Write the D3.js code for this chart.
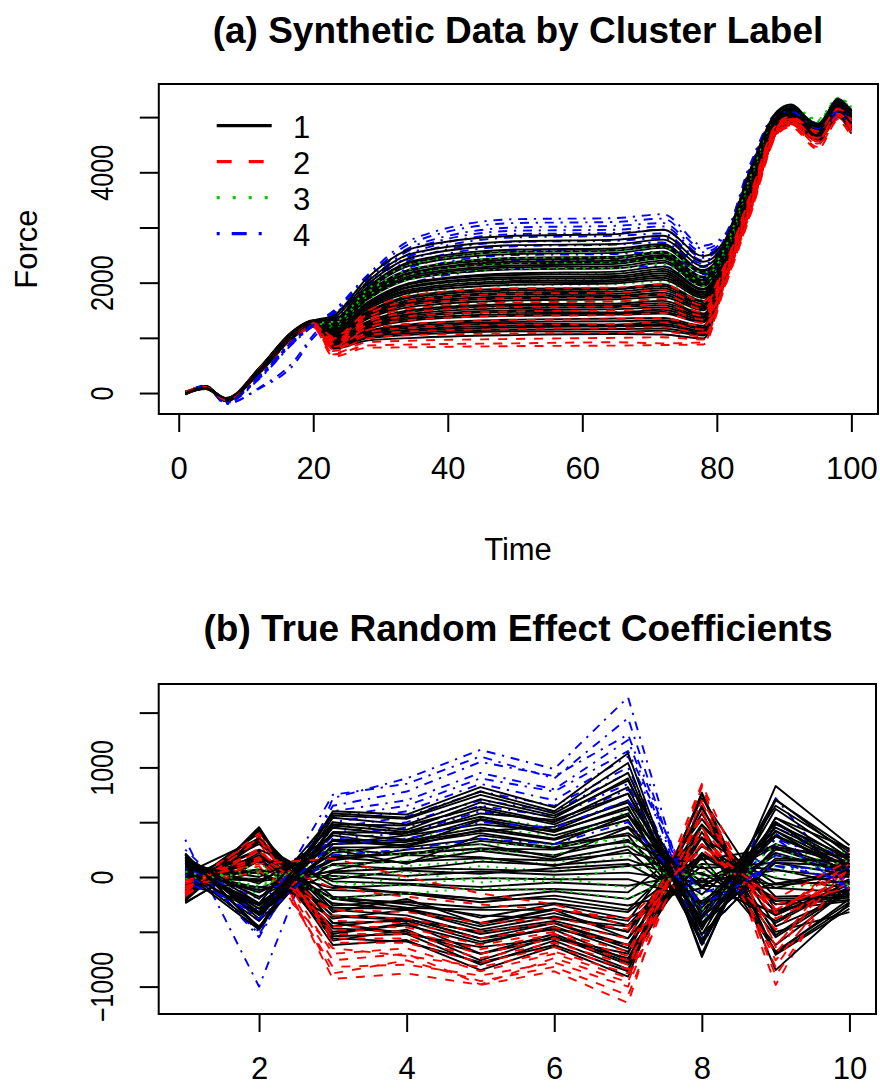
<!DOCTYPE html>
<html>
<head>
<meta charset="utf-8">
<script src="https://cdn.jsdelivr.net/npm/d3@7"></script>
<style>
body { margin: 0; background: #fff; }
text { font-family: "Liberation Sans", Arial, Helvetica, sans-serif; fill: #000; }
</style>
</head>
<body>
<div id="chart"></div>
<script>
// ---------------- data ----------------
var clusterLabels = ["1", "2", "3", "4"];
var clusterColors = ["#000000", "#FF0000", "#00CD00", "#0000FF"];

var timeKeys = [1, 4, 7, 12, 17, 20, 23, 28, 35, 50, 65, 72, 78, 81, 85, 89, 91, 95, 98, 100];

var forceCluster1 = [
  [0, 90, -110, 420, 1080, 1230, 800, 950, 1000, 1050, 1070, 1060, 990, 1950, 3330, 4740, 4880, 4560, 5020, 4850],
  [10, 110, -130, 380, 1020, 1200, 820, 990, 1060, 1120, 1110, 1130, 1040, 1980, 3360, 4760, 4950, 4700, 5150, 4980],
  [10, 100, -120, 400, 1050, 1240, 830, 1010, 1090, 1150, 1160, 1170, 1070, 1990, 3370, 4750, 4920, 4640, 5100, 4900],
  [-20, 80, -100, 440, 1100, 1260, 850, 1040, 1120, 1190, 1210, 1220, 1100, 2000, 3390, 4770, 4900, 4620, 5080, 4790],
  [-10, 90, -130, 430, 1090, 1270, 860, 1060, 1150, 1220, 1230, 1250, 1130, 2010, 3400, 4780, 4960, 4700, 5180, 5000],
  [0, 120, -140, 360, 1000, 1220, 870, 1080, 1190, 1260, 1240, 1290, 1160, 2030, 3420, 4790, 4990, 4750, 5200, 5050],
  [0, 110, -100, 390, 1030, 1230, 880, 1100, 1220, 1290, 1300, 1320, 1190, 2040, 3430, 4790, 4940, 4640, 5080, 4850],
  [20, 100, -90, 410, 1060, 1280, 890, 1120, 1250, 1330, 1350, 1360, 1220, 2060, 3440, 4800, 4920, 4580, 5000, 4700],
  [-10, 70, -120, 450, 1120, 1300, 910, 1160, 1320, 1400, 1420, 1440, 1280, 2090, 3470, 4810, 4970, 4680, 5110, 4900],
  [20, 120, -140, 420, 1070, 1270, 920, 1180, 1350, 1430, 1440, 1470, 1300, 2100, 3480, 4820, 5000, 4740, 5180, 5020],
  [0, 130, -150, 390, 1040, 1240, 940, 1210, 1380, 1470, 1460, 1510, 1330, 2120, 3500, 4830, 5020, 4800, 5230, 5080],
  [-20, 80, -110, 450, 1110, 1300, 950, 1230, 1410, 1500, 1520, 1550, 1360, 2130, 3510, 4830, 4960, 4660, 5090, 4890],
  [30, 90, -100, 430, 1090, 1260, 960, 1250, 1440, 1540, 1560, 1590, 1390, 2150, 3530, 4840, 4950, 4620, 5060, 4820],
  [0, 100, -120, 380, 1020, 1220, 970, 1270, 1480, 1580, 1590, 1630, 1420, 2160, 3540, 4850, 5030, 4780, 5220, 5060],
  [-30, 110, -130, 370, 1010, 1210, 980, 1290, 1510, 1610, 1620, 1670, 1440, 2180, 3560, 4850, 5010, 4720, 5170, 4950],
  [0, 80, -110, 460, 1130, 1310, 1010, 1340, 1570, 1680, 1700, 1740, 1500, 2210, 3580, 4870, 4960, 4650, 5090, 4880],
  [10, 130, -150, 410, 1060, 1260, 1020, 1360, 1610, 1720, 1740, 1780, 1530, 2220, 3590, 4870, 4980, 4620, 5040, 4800],
  [10, 120, -140, 400, 1050, 1250, 1030, 1380, 1640, 1750, 1760, 1820, 1560, 2240, 3610, 4880, 5040, 4780, 5250, 5100],
  [-10, 90, -100, 440, 1100, 1290, 1040, 1400, 1670, 1790, 1800, 1860, 1590, 2260, 3620, 4890, 5050, 4760, 5200, 5040],
  [-10, 100, -100, 420, 1080, 1290, 1050, 1420, 1700, 1820, 1840, 1900, 1610, 2270, 3640, 4890, 4990, 4560, 5010, 4760],
  [0, 110, -130, 400, 1050, 1250, 1060, 1450, 1740, 1860, 1880, 1940, 1650, 2290, 3660, 4900, 5010, 4680, 5110, 4900],
  [20, 90, -120, 380, 1030, 1230, 1080, 1470, 1770, 1890, 1900, 1970, 1670, 2300, 3670, 4910, 5060, 4840, 5280, 5110],
  [0, 130, -130, 440, 1100, 1270, 1100, 1510, 1830, 1960, 1990, 2050, 1720, 2330, 3690, 4920, 5000, 4700, 5120, 4930],
  [20, 100, -120, 420, 1080, 1280, 1110, 1540, 1860, 2000, 2020, 2090, 1750, 2350, 3710, 4930, 5060, 4800, 5240, 5060],
  [-20, 110, -150, 410, 1070, 1300, 1120, 1560, 1890, 2030, 2050, 2130, 1780, 2360, 3720, 4930, 5080, 4620, 5060, 4850],
  [-20, 120, -140, 390, 1040, 1240, 1130, 1580, 1930, 2070, 2090, 2170, 1810, 2380, 3740, 4940, 5020, 4700, 5130, 4940],
  [10, 80, -110, 390, 1040, 1250, 1140, 1600, 1950, 2100, 2120, 2210, 1830, 2390, 3750, 4950, 5030, 4760, 5190, 5000],
  [0, 80, -110, 430, 1090, 1290, 1160, 1620, 1990, 2140, 2160, 2250, 1870, 2410, 3770, 4960, 5090, 4840, 5270, 5080],
  [0, 100, -90, 450, 1110, 1320, 1170, 1640, 2010, 2170, 2200, 2290, 1890, 2420, 3780, 4960, 5100, 4820, 5260, 5070],
  [-10, 120, -140, 400, 1060, 1280, 1190, 1690, 2080, 2240, 2260, 2360, 1940, 2450, 3810, 4970, 5050, 4680, 5140, 4900],
  [10, 110, -130, 410, 1070, 1270, 1200, 1710, 2110, 2280, 2300, 2400, 1970, 2470, 3830, 4980, 5060, 4720, 5160, 4960],
  [20, 90, -120, 430, 1090, 1260, 1210, 1730, 2140, 2310, 2340, 2440, 2000, 2480, 3840, 4990, 5120, 4860, 5300, 5120],
  [-10, 100, -100, 380, 1030, 1250, 1220, 1750, 2180, 2350, 2370, 2470, 2030, 2500, 3850, 4990, 5110, 4820, 5250, 5080],
  [0, 110, -100, 370, 1020, 1240, 1240, 1780, 2200, 2380, 2400, 2500, 2050, 2510, 3860, 5000, 5070, 4740, 5180, 4980],
  [0, 120, -140, 450, 1110, 1300, 1250, 1800, 2240, 2420, 2440, 2540, 2090, 2530, 3880, 5000, 5080, 4760, 5200, 5000],
  [-20, 130, -130, 460, 1120, 1310, 1260, 1820, 2260, 2450, 2470, 2560, 2110, 2540, 3890, 5010, 5140, 4800, 5230, 5040],
  [10, 100, -110, 420, 1070, 1290, 1280, 1860, 2330, 2520, 2540, 2630, 2170, 2570, 3920, 5020, 5090, 4660, 5100, 4880],
  [10, 90, -120, 400, 1060, 1280, 1300, 1890, 2370, 2560, 2580, 2670, 2200, 2590, 3940, 5030, 5150, 4860, 5280, 5100],
  [0, 80, -140, 390, 1050, 1270, 1310, 1910, 2400, 2600, 2620, 2700, 2230, 2600, 3950, 5040, 5170, 4880, 5290, 5110],
  [-10, 120, -120, 440, 1100, 1300, 1330, 1960, 2470, 2680, 2700, 2780, 2300, 2640, 3980, 5060, 5120, 4760, 5200, 5020],
  [10, 100, -130, 410, 1080, 1280, 1360, 2010, 2540, 2750, 2780, 2850, 2380, 2680, 4020, 5080, 5200, 4850, 5300, 5130],
  [0, 90, -100, 430, 1090, 1310, 1400, 2080, 2630, 2850, 2880, 2960, 2480, 2730, 4060, 5110, 5230, 4820, 5330, 5090]
];

var forceCluster2 = [
  [0, 70, -100, 380, 1000, 1180, 660, 820, 830, 850, 860, 870, 880, 1850, 3230, 4690, 4820, 4420, 4930, 4640],
  [20, 110, -130, 420, 1060, 1220, 700, 860, 880, 900, 920, 900, 920, 1880, 3250, 4700, 4870, 4500, 5000, 4720],
  [-10, 90, -110, 360, 990, 1190, 720, 920, 950, 980, 1000, 1010, 970, 1910, 3280, 4720, 4850, 4460, 4960, 4690],
  [0, 120, -140, 440, 1070, 1240, 760, 990, 1050, 1080, 1090, 1110, 1030, 1950, 3310, 4740, 4900, 4580, 5050, 4800],
  [10, 80, -100, 400, 1030, 1210, 790, 1040, 1120, 1160, 1180, 1190, 1090, 1990, 3340, 4760, 4880, 4520, 4990, 4740],
  [-20, 100, -120, 380, 1010, 1200, 810, 1090, 1190, 1240, 1250, 1280, 1150, 2020, 3370, 4770, 4930, 4640, 5080, 4860],
  [0, 130, -150, 430, 1080, 1250, 840, 1140, 1260, 1320, 1340, 1360, 1210, 2050, 3400, 4790, 4900, 4560, 5020, 4780],
  [10, 90, -110, 410, 1050, 1230, 860, 1180, 1330, 1400, 1410, 1450, 1270, 2080, 3430, 4800, 4960, 4680, 5110, 4900],
  [-10, 110, -130, 370, 1000, 1190, 890, 1230, 1400, 1480, 1500, 1530, 1330, 2110, 3460, 4820, 4920, 4600, 5040, 4820],
  [0, 80, -100, 450, 1090, 1260, 910, 1280, 1470, 1560, 1570, 1610, 1400, 2140, 3490, 4830, 4980, 4720, 5130, 4940],
  [20, 120, -140, 390, 1020, 1220, 940, 1320, 1540, 1640, 1660, 1700, 1460, 2170, 3520, 4850, 4940, 4580, 5010, 4770],
  [0, 100, -120, 420, 1060, 1240, 960, 1370, 1610, 1720, 1730, 1780, 1520, 2200, 3550, 4860, 5000, 4700, 5140, 4920],
  [-10, 90, -110, 400, 1040, 1230, 990, 1420, 1680, 1800, 1820, 1870, 1590, 2230, 3580, 4880, 4960, 4620, 5060, 4840],
  [10, 110, -130, 440, 1080, 1270, 1020, 1480, 1780, 1900, 1910, 1970, 1660, 2270, 3610, 4890, 5010, 4740, 5150, 4960]
];

var forceCluster3 = [
  [0, 100, -120, 410, 1060, 1260, 930, 1200, 1370, 1450, 1470, 1500, 1320, 2110, 3490, 4860, 5050, 4800, 5220, 5080],
  [10, 90, -110, 390, 1040, 1240, 960, 1260, 1450, 1550, 1570, 1600, 1400, 2150, 3530, 4880, 5100, 4860, 5260, 5120],
  [-10, 120, -130, 430, 1090, 1280, 990, 1320, 1530, 1650, 1660, 1700, 1470, 2190, 3570, 4900, 5080, 4780, 5200, 5050],
  [0, 110, -100, 400, 1050, 1250, 1020, 1380, 1620, 1750, 1770, 1810, 1550, 2230, 3610, 4920, 5130, 4880, 5300, 5140],
  [20, 80, -120, 420, 1070, 1270, 1060, 1440, 1710, 1850, 1860, 1920, 1630, 2280, 3650, 4940, 5110, 4820, 5240, 5100],
  [0, 100, -140, 380, 1030, 1230, 1090, 1500, 1800, 1950, 1970, 2020, 1700, 2320, 3690, 4960, 5150, 4900, 5310, 5160],
  [-20, 130, -110, 440, 1100, 1290, 1120, 1560, 1890, 2050, 2070, 2130, 1780, 2360, 3730, 4980, 5120, 4840, 5250, 5090],
  [10, 90, -120, 410, 1060, 1260, 1160, 1620, 1980, 2150, 2170, 2230, 1860, 2410, 3770, 5000, 5160, 4920, 5320, 5170],
  [0, 110, -130, 390, 1040, 1250, 1190, 1680, 2080, 2250, 2260, 2340, 1940, 2450, 3810, 5020, 5140, 4860, 5270, 5120],
  [-10, 100, -100, 430, 1080, 1280, 1220, 1750, 2170, 2350, 2370, 2440, 2020, 2490, 3850, 5040, 5180, 4940, 5340, 5190],
  [20, 120, -140, 400, 1050, 1240, 1260, 1810, 2260, 2450, 2460, 2550, 2100, 2540, 3890, 5060, 5170, 4880, 5290, 5150],
  [0, 90, -110, 420, 1070, 1270, 1290, 1870, 2350, 2550, 2570, 2650, 2180, 2580, 3930, 5080, 5200, 4960, 5350, 5200]
];

var forceCluster4 = [
  [0, 110, -150, 320, 960, 1240, 1190, 1600, 2010, 2250, 2270, 2300, 1950, 2450, 3810, 4940, 5040, 4760, 5060, 4900],
  [10, 130, -170, 280, 920, 1220, 1240, 1690, 2140, 2400, 2420, 2460, 2070, 2510, 3870, 4960, 5060, 4700, 5000, 4850],
  [-10, 100, -160, 300, 950, 1250, 1280, 1750, 2230, 2500, 2520, 2560, 2150, 2560, 3910, 4980, 5080, 4800, 5100, 4960],
  [0, 120, -190, 80, 500, 1000, 1300, 1790, 2300, 2580, 2600, 2650, 2210, 2590, 3940, 4990, 5050, 4740, 5040, 4880],
  [20, 110, -150, 310, 940, 1230, 1330, 1840, 2370, 2660, 2690, 2730, 2280, 2630, 3980, 5000, 5090, 4820, 5120, 4970],
  [0, 140, -180, 260, 900, 1210, 1350, 1890, 2440, 2740, 2760, 2810, 2340, 2660, 4010, 5010, 5070, 4760, 5060, 4900],
  [-10, 100, -160, 290, 930, 1240, 1380, 1930, 2510, 2820, 2850, 2890, 2400, 2700, 4040, 5020, 5100, 4840, 5140, 4990],
  [10, 120, -200, 100, 560, 1050, 1400, 1970, 2560, 2880, 2900, 2960, 2450, 2720, 4060, 5030, 5060, 4720, 5020, 4860],
  [0, 130, -170, 300, 950, 1250, 1420, 2000, 2620, 2940, 2960, 3020, 2500, 2750, 4080, 5040, 5110, 4860, 5160, 5000],
  [-20, 110, -150, 270, 910, 1220, 1440, 2040, 2670, 3000, 3030, 3080, 2550, 2770, 4100, 5050, 5080, 4780, 5080, 4920],
  [10, 100, -180, 310, 940, 1260, 1470, 2090, 2740, 3080, 3100, 3160, 2610, 2810, 4130, 5060, 5120, 4880, 5180, 5010],
  [0, 120, -160, 280, 920, 1230, 1490, 2130, 2800, 3150, 3170, 3240, 2670, 2840, 4160, 5070, 5100, 4800, 5100, 4950]
];

// panel (b): coefficient index 1..10
var coefIndex = [1, 2, 3, 4, 5, 6, 7, 8, 9, 10];

var coefCluster1 = [
  [-215, 360, -620, -575, -850, -635, -910, 770, -710, -290],
  [-180, 430, -540, -520, -800, -580, -840, 410, -500, -320],
  [-50, 240, -560, -590, -780, -620, -860, 760, -850, -240],
  [-220, 455, -580, -480, -760, -540, -800, 300, -310, -150],
  [-200, 440, -520, -420, -700, -520, -780, 650, -700, -260],
  [-230, 150, -470, -500, -700, -560, -740, 470, -250, -210],
  [-130, 220, -350, -380, -560, -480, -760, 360, -690, -200],
  [-160, 420, -420, -520, -640, -560, -700, 720, -300, -220],
  [-30, 180, -500, -440, -610, -450, -680, 180, -620, -110],
  [-80, 400, -300, -350, -520, -420, -650, 630, -450, -160],
  [-130, 360, -420, -400, -590, -470, -620, 200, -220, -190],
  [-240, 170, -450, -380, -560, -420, -620, 460, -680, -230],
  [-150, 320, -360, -390, -500, -400, -560, 580, -530, -90],
  [-110, 350, -320, -200, -430, -300, -560, 220, -200, -180],
  [20, 40, -380, -300, -450, -330, -500, 360, -550, -120],
  [-70, 160, -240, -300, -480, -360, -500, 480, -180, -160],
  [-40, 330, -180, -250, -350, -380, -450, 100, -420, -60],
  [-120, 50, -280, -290, -420, -290, -440, 280, -100, -140],
  [-100, 200, -200, -280, -300, -300, -400, 530, -330, -100],
  [30, 350, -260, -220, -370, -250, -380, -10, -400, -40],
  [-90, 180, -200, -230, -280, -240, -320, 200, -10, -100],
  [-20, 300, -80, -150, -200, -200, -300, 350, -250, -120],
  [-50, 140, -190, -150, -230, -170, -260, -100, -320, -20],
  [-60, -90, -120, -140, -200, -130, -200, 120, 70, -70],
  [-20, 70, -100, -70, -120, -110, -140, 360, -60, 10],
  [-30, 250, -40, -60, -90, -50, -80, 40, -350, -50],
  [10, -20, 10, -30, -10, -20, -20, -220, 220, 30],
  [-70, -250, 40, 10, 50, 20, 40, -50, 60, 0],
  [10, -40, 50, 80, 70, 50, 100, 160, 260, 40],
  [20, 180, -20, 60, 30, 80, 120, -240, -60, 60],
  [50, -100, 110, 70, 140, 110, 160, -80, -100, 60],
  [130, -290, 120, 140, 170, 150, 220, 80, 130, 20],
  [40, -120, 60, 200, 180, 100, 250, -370, 250, 200],
  [80, 40, 180, 130, 240, 160, 280, -160, 420, 90],
  [70, -140, 160, 220, 260, 250, 320, 20, -70, -40],
  [50, -340, 190, 210, 260, 200, 340, -250, 200, 40],
  [90, -240, 220, 300, 400, 300, 380, -450, 420, 20],
  [-10, -30, 260, 200, 330, 260, 400, -40, 300, 110],
  [120, -180, 150, 250, 300, 180, 450, -280, 370, 80],
  [70, -400, 270, 270, 350, 270, 460, -80, 280, 60],
  [140, -290, 330, 280, 430, 340, 520, -520, 150, 150],
  [60, -260, 250, 120, 380, 300, 560, -380, 500, 120],
  [140, -60, 380, 280, 520, 380, 560, -100, 380, 90],
  [100, -260, 340, 330, 450, 350, 580, -420, 130, 100],
  [50, -450, 300, 380, 480, 420, 620, -320, 500, 50],
  [160, -350, 400, 340, 530, 410, 640, -600, 480, 180],
  [100, 0, 300, 320, 420, 460, 680, -440, 170, 140],
  [130, -330, 410, 400, 550, 430, 700, -250, 450, 120],
  [180, -200, 470, 410, 620, 480, 760, -480, 710, 200],
  [180, -380, 450, 380, 580, 520, 760, -420, 270, 180],
  [30, -480, 480, 470, 640, 500, 820, -580, 540, 150],
  [200, -460, 540, 480, 710, 560, 880, -360, 650, 230],
  [160, -320, 500, 430, 680, 540, 900, -620, 540, 260],
  [170, -240, 560, 530, 750, 580, 950, -530, 620, 170],
  [210, -470, 580, 540, 780, 600, 1040, -700, 700, 250],
  [215, -480, 600, 570, 820, 635, 1130, -730, 830, 290]
];

var coefCluster2 = [
  [-190, 420, -930, -880, -985, -860, -1150, 840, -985, 200],
  [-150, 380, -880, -760, -950, -820, -1080, 600, -820, 150],
  [-170, 250, -820, -800, -900, -780, -1000, 700, -450, 250],
  [-120, 320, -760, -700, -980, -740, -960, 820, -900, 100],
  [-160, 360, -700, -650, -860, -700, -920, 450, -350, 180],
  [-90, 100, -650, -720, -820, -680, -880, 600, -760, 50],
  [-140, 400, -600, -600, -780, -640, -840, 850, -640, 220],
  [-60, 350, -560, -560, -740, -600, -800, 560, -300, 0],
  [-130, 340, -520, -520, -700, -560, -760, 300, -480, 140],
  [-100, 260, -480, -500, -660, -520, -720, 680, -620, 80],
  [-150, 150, -450, -460, -620, -500, -680, 450, -700, 200],
  [-40, 180, -400, -420, -560, -460, -620, 400, -380, -50],
  [-110, 240, -350, -380, -500, -420, -560, 550, -330, 120],
  [-80, 50, -300, -320, -420, -380, -480, 300, -300, 60],
  [-60, 160, -100, -180, -250, -300, -380, 250, -250, -100],
  [-30, 120, 170, 0, -150, -250, -450, 300, -200, 150]
];

var coefCluster3 = [
  [40, -80, 200, 250, 350, 300, 600, -300, 250, 80],
  [-30, 60, -100, 0, 100, 50, 200, -100, 150, 300],
  [60, -120, 300, 350, 450, 380, 500, -250, 350, 120],
  [0, 20, 50, 100, 150, 120, 300, -150, 100, 40],
  [-60, 120, -200, -150, -100, -120, -200, 120, -100, -50],
  [80, -150, 400, 420, 550, 450, 700, -400, 400, 200],
  [20, -30, 100, 150, 250, 200, 400, -200, 200, 100],
  [-40, 80, -50, -80, 0, -50, 100, 0, 50, 250],
  [50, -100, 250, 200, 300, 280, 350, -300, 300, -80],
  [-20, 40, 0, 50, -50, 0, -100, 50, 0, 150]
];

var coefCluster4 = [
  [340, -1000, 720, 900, 1160, 985, 1640, -640, 720, -100],
  [250, -400, 750, 850, 1100, 900, 1450, -600, 500, 50],
  [200, -550, 650, 780, 1050, 920, 1300, -450, 400, -150],
  [150, -500, 600, 700, 950, 800, 1250, -550, 350, 100],
  [100, -250, 550, 650, 900, 780, 1150, -300, 300, -50],
  [180, -520, 500, 600, 850, 700, 1100, -350, 450, 150],
  [60, -400, 450, 550, 780, 650, 1000, -450, 500, 0],
  [120, -250, 400, 500, 700, 600, 950, -400, 350, -120],
  [0, -350, 380, 450, 650, 550, 850, -550, 200, 80],
  [80, -200, 350, 400, 600, 500, 800, -300, 150, -80],
  [-50, -300, 300, 350, 500, 450, 700, -150, 100, 60],
  [30, -380, 200, 250, 350, 300, 500, -250, 100, -30]
];

// ticks
var forceXTicks = [0, 20, 40, 60, 80, 100];
var forceYTicks = [0, 1000, 2000, 3000, 4000, 5000];
var forceYLabels = ["0", "", "2000", "", "4000", ""];
var coefXTicks = [2, 4, 6, 8, 10];
var coefYTicks = [-1000, -500, 0, 500, 1000, 1500];
var coefYLabels = ["\u22121000", "", "0", "", "1000", ""];

// ---------------- drawing ----------------
var svgWidth = 880;
var svgHeight = 1090;
var fontSize = 31;
var yLabelSqueeze = 0.81;   // rotated tick labels are narrower along their length

var plotDash = [null, "9,9", "2.25,6.75", "2.25,6.75,9,6.75"];
var legendDash = [null, "15,17", "3,13", "3,12,15,12"];

var svg = d3.select("#chart")
    .append("svg")
    .attr("width", svgWidth)
    .attr("height", svgHeight);

svg.append("rect").attr("width", svgWidth).attr("height", svgHeight).attr("fill", "#fff");

// plot regions
var boxA = {left: 158.8, right: 878, top: 84, bottom: 414};
var boxB = {left: 158.7, right: 876, top: 684, bottom: 1014};

var xA = d3.scaleLinear().domain([-2.96, 103.96]).range([boxA.left, boxA.right]);
var yA = d3.scaleLinear().domain([-380, 5600]).range([boxA.bottom, boxA.top]);
var xB = d3.scaleLinear().domain([0.64, 10.36]).range([boxB.left, boxB.right]);
var yB = d3.scaleLinear().domain([-1250, 1761]).range([boxB.bottom, boxB.top]);

function addText(x, y, str, opts) {
    opts = opts || {};
    var t = "translate(" + x + "," + y + ")";
    if (opts.rotate) t += " rotate(-90)";
    return svg.append("text")
        .attr("transform", t)
        .attr("text-anchor", opts.anchor || "middle")
        .attr("font-size", opts.size || fontSize)
        .attr("font-weight", opts.bold ? "bold" : null)
        .text(str);
}

// put the clusters' curves in one list, interleaved like matplot columns
function mixCurves(groups) {
    var all = [];
    groups.forEach(function(curves, k) {
        curves.forEach(function(vals, i) {
            all.push({cluster: k, values: vals, order: (i + 0.5) / curves.length + k * 0.0001});
        });
    });
    all.sort(function(a, b) { return a.order - b.order; });
    return all;
}

function drawAxes(box, x, y, xTicks, yTicks, yLabels) {
    var gx = svg.append("g")
        .attr("transform", `translate(0, ${box.bottom})`)
        .call(d3.axisBottom(x).tickValues(xTicks).tickSize(18).tickSizeOuter(0));
    gx.select(".domain").remove();
    gx.selectAll("line").attr("stroke", "#000").attr("stroke-width", 2);
    gx.selectAll("text")
        .attr("y", 0).attr("dy", 0)
        .attr("font-size", fontSize)
        .attr("transform", "translate(0, 65)");

    var gy = svg.append("g")
        .attr("transform", `translate(${box.left}, 0)`)
        .call(d3.axisLeft(y).tickValues(yTicks).tickSize(19).tickSizeOuter(0)
            .tickFormat(function(d, i) { return yLabels[i]; }));
    gy.select(".domain").remove();
    gy.selectAll("line").attr("stroke", "#000").attr("stroke-width", 2);
    gy.selectAll("text")
        .attr("x", 0).attr("dy", 0)
        .attr("text-anchor", "middle")
        .attr("font-size", fontSize)
        .attr("transform", `translate(-46, 0) rotate(-90) scale(${yLabelSqueeze},1)`);

    svg.append("rect")
        .attr("x", box.left).attr("y", box.top)
        .attr("width", box.right - box.left).attr("height", box.bottom - box.top)
        .attr("fill", "none").attr("stroke", "#000").attr("stroke-width", 2);
}

// ---- panel (a) ----
var lineA = d3.line()
    .x(function(d, i) { return xA(timeKeys[i]); })
    .y(function(d) { return yA(d); })
    .curve(d3.curveMonotoneX);

svg.append("g").selectAll("path")
    .data(mixCurves([forceCluster1, forceCluster2, forceCluster3, forceCluster4]))
    .enter()
    .append("path")
    .attr("d", function(d) { return lineA(d.values); })
    .attr("fill", "none")
    .attr("stroke", function(d) { return clusterColors[d.cluster]; })
    .attr("stroke-width", 1.9)
    .attr("stroke-linejoin", "round")
    .attr("stroke-dasharray", function(d) { return plotDash[d.cluster]; });

drawAxes(boxA, xA, yA, forceXTicks, forceYTicks, forceYLabels);

addText(518, 43, "(a) Synthetic Data by Cluster Label", {size: 37, bold: true});
addText(518, 560, "Time");
addText(37, 249, "Force", {rotate: true});

// legend
var legendRows = [125.7, 161.7, 197.7, 233.7];
clusterLabels.forEach(function(lab, k) {
    svg.append("line")
        .attr("x1", 216.7).attr("x2", 271.7)
        .attr("y1", legendRows[k]).attr("y2", legendRows[k])
        .attr("stroke", clusterColors[k])
        .attr("stroke-width", 3.3)
        .attr("stroke-dasharray", legendDash[k]);
    addText(293, legendRows[k] + 12, lab, {anchor: "start"});
});

// ---- panel (b) ----
var lineB = d3.line()
    .x(function(d, i) { return xB(coefIndex[i]); })
    .y(function(d) { return yB(d); });

svg.append("g").selectAll("path")
    .data(mixCurves([coefCluster1, coefCluster2, coefCluster3, coefCluster4]))
    .enter()
    .append("path")
    .attr("d", function(d) { return lineB(d.values); })
    .attr("fill", "none")
    .attr("stroke", function(d) { return clusterColors[d.cluster]; })
    .attr("stroke-width", 1.9)
    .attr("stroke-linejoin", "round")
    .attr("stroke-dasharray", function(d) { return plotDash[d.cluster]; });

drawAxes(boxB, xB, yB, coefXTicks, coefYTicks, coefYLabels);

addText(518, 641, "(b) True Random Effect Coefficients", {size: 37, bold: true});
</script>
</body>
</html>
